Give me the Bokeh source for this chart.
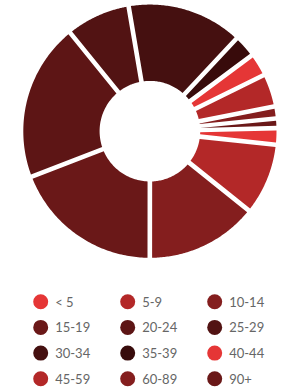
import numpy as np
from bokeh.plotting import figure
from bokeh.models import Range1d, ColumnDataSource, GlobalInlineStyleSheet
from bokeh.core.properties import value
from bokeh.embed import file_html
from bokeh.resources import INLINE

# ---- data ----
categories = ["< 5", "5-9", "10-14", "15-19", "20-24", "25-29",
              "30-34", "35-39", "40-44", "45-59", "60-89", "90+"]
shares = [2.1, 9.05, 14.25, 19.15, 20.0, 8.15, 14.65, 2.85, 2.9, 4.15, 1.55, 1.2]
colors = ["#e53636", "#b32828", "#841e1e", "#6a1818", "#5d1515", "#521313",
          "#451010", "#380b0b", "#e53636", "#b32828", "#841e1e", "#6a1818"]

W, H = 290, 388
p = figure(width=W, height=H, x_range=Range1d(0, W), y_range=Range1d(H, 0),
           output_backend="svg", toolbar_location=None, min_border=0)
p.axis.visible = False
p.grid.visible = False
p.outline_line_color = None
p.background_fill_color = "white"
p.stylesheets = [GlobalInlineStyleSheet(css="html,body{margin:0;padding:0;overflow:hidden;}")]

# ---- donut (d3-like padded arcs) ----
cx, cy = 149.4, 130.7
R_out, R_in = 126.6, 50.3
pad = 2.3
start = np.deg2rad(-1.4)
total = float(sum(shares))
po = np.arcsin(pad / R_out)
pi_ = np.arcsin(pad / R_in)
xs, ys = [], []
a = start
for v in shares:
    span = v / total * 2 * np.pi
    a0, a1 = a, a + span
    o = np.linspace(a0 + po, a1 - po, 80)
    if span > 2 * pi_:
        i = np.linspace(a1 - pi_, a0 + pi_, 40)
    else:
        i = np.array([(a0 + a1) / 2])
    xs.append(list(cx + R_out * np.cos(o)) + list(cx + R_in * np.cos(i)))
    ys.append(list(cy + R_out * np.sin(o)) + list(cy + R_in * np.sin(i)))
    a = a1

p.patches(xs=xs, ys=ys, fill_color=colors, line_color=None)

# ---- legend ----
col_x = [40.2, 127.2, 214.2]
row_y = [301.2, 326.9, 352.6, 378.3]
lx = [col_x[k % 3] for k in range(len(categories))]
ly = [row_y[k // 3] for k in range(len(categories))]
src = ColumnDataSource(dict(x=lx, y=ly, tx=[v + 14.5 for v in lx], label=categories, color=colors))
p.scatter(x="x", y="y", size=15, marker="circle", fill_color="color", line_color=None, source=src)
p.text(x="tx", y="y", text="label", source=src, text_font=value("Lato"),
       text_font_size="13px", text_baseline="middle", text_align="left", text_color="#666666")

open("out.html", "w").write(file_html(p, INLINE))
